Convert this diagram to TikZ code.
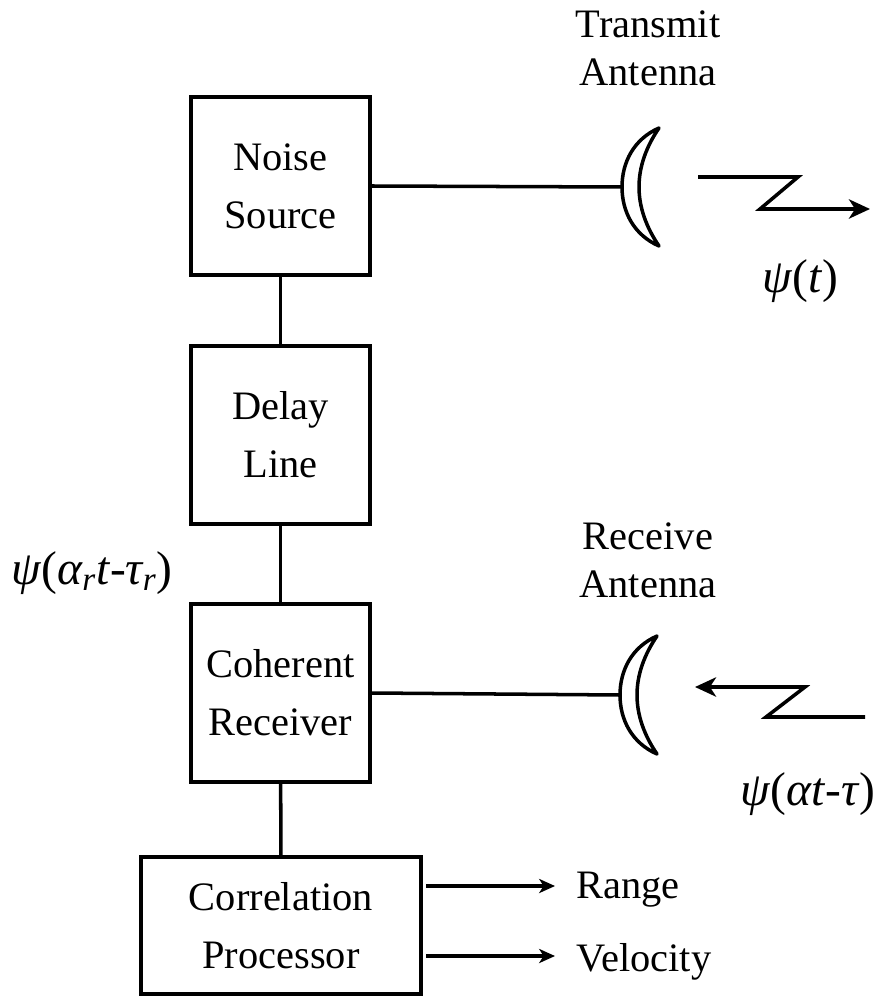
\documentclass[tikz,border=0pt]{standalone}
\usepackage{fontspec}
\setmainfont{Liberation Serif}
\usetikzlibrary{arrows.meta}
\tikzset{
  blockbox/.style={draw,line width=2pt,minimum width=3.58cm,minimum height=3.56cm,align=center,inner sep=0pt,font=\fontsize{23}{33}\selectfont},
  lbl/.style={align=center,inner sep=0pt,font=\fontsize{23}{27.5}\selectfont},
  sig/.style={inner sep=0pt,font=\fontsize{27}{32}\selectfont},
  wire/.style={line width=2pt},
  bigtip/.style={-{Stealth[length=12pt,width=11pt,inset=3.5pt]},line join=miter},
  smalltip/.style={-{Stealth[length=9pt,width=8pt,inset=2.5pt]}},
  crescent/.pic={
    \draw[line width=2pt,line join=round] (37,-59) .. controls (12,-48) and (0,-25) .. (0,0) .. controls (0,25) and (12,48) .. (37,59)
      .. controls (24,40) and (17,20) .. (17,0) .. controls (17,-20) and (24,-40) .. (37,-59) -- cycle;
  }
}
\begin{document}
\begin{tikzpicture}[x=0.02cm,y=-0.02cm]
 \useasboundingbox (0,0) rectangle (878,996);
 \draw (280.5,186) node[blockbox] (noise) {Noise\\Source};
 \draw (280.5,435) node[blockbox] (delay) {Delay\\Line};
 \draw (280.5,693) node[blockbox] (coherent) {Coherent\\Receiver};
 \draw (281,925.5) node[blockbox,minimum width=5.6cm,minimum height=2.74cm] (correlation) {Correlation\\Processor};

 \draw (648,48) node[lbl] (txlabel) {Transmit\\Antenna};
 \draw (648,560) node[lbl] (rxlabel) {Receive\\Antenna};
 \draw (800,281) node[sig] (txsig) {\textit{ψ}(\textit{t})};
 \draw (808,794) node[sig] (rxsig) {\textit{ψ}(\textit{αt}-\textit{τ})};
 \draw (92,573) node[sig] (refsig) {\textit{ψ}(\textit{α\textsubscript{r}t}-\textit{τ\textsubscript{r}})};
 \draw (578,890) node[lbl,anchor=west,inner xsep=-1pt] (range) {Range};
 \draw (578,962) node[lbl,anchor=west,inner xsep=-1pt] (velocity) {Velocity};

 \coordinate (txfeed) at (622,187);
 \coordinate (rxfeed) at (620,695);
 \pic at (txfeed) {crescent};
 \pic at (rxfeed) {crescent};

 \path[wire] (noise) edge (delay);
 \path[wire] (delay) edge (coherent);
 \path[wire] (coherent) edge (correlation);
 \draw[wire] (noise.east) -- (txfeed);
 \draw[wire] (coherent.east) -- (rxfeed);

 \coordinate (rangeout) at (426,886);
 \coordinate (rangeend) at (555,886);
 \coordinate (velout) at (426,956);
 \coordinate (velend) at (555,956);
 \draw[wire,smalltip] (rangeout) -- (rangeend);
 \draw[wire,smalltip] (velout) -- (velend);

 % zigzag signals
 \coordinate (tx1) at (698,177);
 \coordinate (tx2) at (798,177);
 \coordinate (tx3) at (760,209);
 \coordinate (tx4) at (870,209);
 \draw[wire,bigtip] (tx1) -- (tx2) -- (tx3) -- (tx4);
 \coordinate (rx1) at (865,717);
 \coordinate (rx2) at (766,717);
 \coordinate (rx3) at (805,687);
 \coordinate (rx4) at (695,687);
 \draw[wire,bigtip] (rx1) -- (rx2) -- (rx3) -- (rx4);
\end{tikzpicture}
\end{document}
